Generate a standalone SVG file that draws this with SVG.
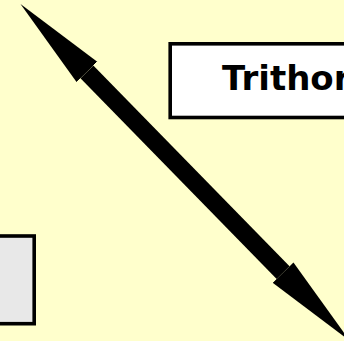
<svg xmlns="http://www.w3.org/2000/svg" width="344" height="341" viewBox="0 0 344 341">
  <style>
    .box { stroke: #000; stroke-width: 3.6; }
    .label { font-family: "DejaVu Sans", "Liberation Sans", Arial, sans-serif; font-weight: bold; font-size: 34px; fill: #000; }
    .conn { stroke: #000; stroke-width: 18; stroke-linecap: butt; fill: none; }
  </style>
  <defs>
    <marker id="head" markerUnits="userSpaceOnUse" markerWidth="96" markerHeight="30" refX="0" refY="15" orient="auto-start-reverse">
      <path d="M0,0.5 L95,15 L0,29.5 Z" fill="#000"/>
    </marker>
  </defs>
  <rect x="0" y="0" width="344" height="341" fill="#FFFFCC"/>
  <g id="node-trithor">
    <rect class="box" x="170.2" y="43.8" width="200" height="73.7" fill="#FFFFFF"/>
    <text class="label" x="222" y="90">Trithor</text>
  </g>
  <g id="node-left">
    <rect class="box" x="-60" y="236" width="94.2" height="87.7" fill="#E8E8E8"/>
  </g>
  <g id="connectors">
    <line class="conn" x1="86.9" y1="71.9" x2="283.1" y2="272.6" marker-start="url(#head)" marker-end="url(#head)"/>
  </g>
</svg>
